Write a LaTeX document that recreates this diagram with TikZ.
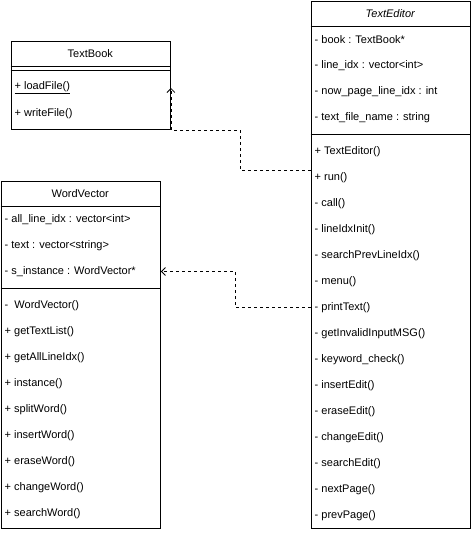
\documentclass[tikz,border=0pt]{standalone}
\usepackage{fontspec}
\setmainfont{Liberation Sans}
\usetikzlibrary{arrows.meta}

\tikzset{
  classbox/.style={draw, line width=0.9pt, inner sep=0pt, anchor=north west},
  member/.style={anchor=west, inner sep=0pt, font=\fontsize{11}{13}\selectfont},
  classname/.style={inner sep=0pt, font=\fontsize{11}{13}\selectfont},
  dep/.style={line width=0.8pt, dash pattern=on 3pt off 3pt, -{Straight Barb[length=4pt,width=8pt]}}
}

\begin{document}
\begin{tikzpicture}[x=1pt,y=-1pt]
\useasboundingbox (0,0) rectangle (471,533);

% TextBook
\node[classbox, minimum width=159.5pt, minimum height=88.5pt] (book) at (10.5,40.5) {};
\node[classname] (bookname) at (90.25,53.5) {TextBook};
\draw[line width=0.9pt] (10.5,66.5) -- (170,66.5);
\draw[line width=0.9pt] (10.5,70.5) -- (170,70.5);
\node[member] (loadfile) at (14.5,88) {\underline{+ loadFile()}};
\node[member] (writefile) at (14.5,114) {+ writeFile()};

% WordVector
\node[classbox, minimum width=159.5pt, minimum height=347.5pt] (words) at (0.5,180.5) {};
\node[classname] (wordsname) at (80.25,193.5) {WordVector};
\draw[line width=0.9pt] (0.5,206.5) -- (160,206.5);
\node[member] (alllineidx) at (4.5,219.5) {- all\_line\_idx : vector<int>};
\node[member] (text) at (4.5,245.5) {- text : vector<string>};
\node[member] (sinst) at (4.5,271.5) {- s\_instance : WordVector*};
\draw[line width=0.9pt] (0.5,288) -- (160,288);
\node[member] (wvctor) at (4.5,305.5) {-\ \ WordVector()};
\node[member] (gettextlist) at (4.5,331.5) {+ getTextList()};
\node[member] (getalllineidx) at (4.5,357.5) {+ getAllLineIdx()};
\node[member] (instance) at (4.5,383.5) {+ instance()};
\node[member] (splitword) at (4.5,409.5) {+ splitWord()};
\node[member] (insertword) at (4.5,435.5) {+ insertWord()};
\node[member] (eraseword) at (4.5,461.5) {+ eraseWord()};
\node[member] (changeword) at (4.5,487.5) {+ changeWord()};
\node[member] (searchword) at (4.5,513.5) {+ searchWord()};

% TextEditor
\node[classbox, minimum width=159.5pt, minimum height=527.5pt] (editor) at (310.5,0.5) {};
\node[classname] (editorname) at (390.25,13.5) {\itshape TextEditor};
\draw[line width=0.9pt] (310.5,26.5) -- (470,26.5);
\node[member] (bookptr) at (314.5,40) {- book : TextBook*};
\node[member] (lineidx) at (314.5,66) {- line\_idx : vector<int>};
\node[member] (nowpage) at (314.5,92) {- now\_page\_line\_idx : int};
\node[member] (filename) at (314.5,118) {- text\_file\_name : string};
\draw[line width=0.9pt] (310.5,134) -- (470,134);
\node[member] (tector) at (314.5,151.5) {+ TextEditor()};
\node[member] (run) at (314.5,177.5) {+ run()};
\node[member] (call) at (314.5,203.5) {- call()};
\node[member] (lineidxinit) at (314.5,229.5) {- lineIdxInit()};
\node[member] (searchprev) at (314.5,255.5) {- searchPrevLineIdx()};
\node[member] (menu) at (314.5,281.5) {- menu()};
\node[member] (printtext) at (314.5,307.5) {- printText()};
\node[member] (getinvalid) at (314.5,333.5) {- getInvalidInputMSG()};
\node[member] (keyword) at (314.5,359.5) {- keyword\_check()};
\node[member] (insertedit) at (314.5,385.5) {- insertEdit()};
\node[member] (eraseedit) at (314.5,411.5) {- eraseEdit()};
\node[member] (changeedit) at (314.5,437.5) {- changeEdit()};
\node[member] (searchedit) at (314.5,463.5) {- searchEdit()};
\node[member] (nextpage) at (314.5,489.5) {- nextPage()};
\node[member] (prevpage) at (314.5,515.5) {- prevPage()};

% Dependencies
\draw[dep] (editor.west |- 0,170) -- ++(-70.5,0) |- (book.south east) -- (book.east |- loadfile);
\draw[dep] (editor.west |- printtext) -- ++(-75.5,0) |- (words.east |- sinst);

\end{tikzpicture}
\end{document}
